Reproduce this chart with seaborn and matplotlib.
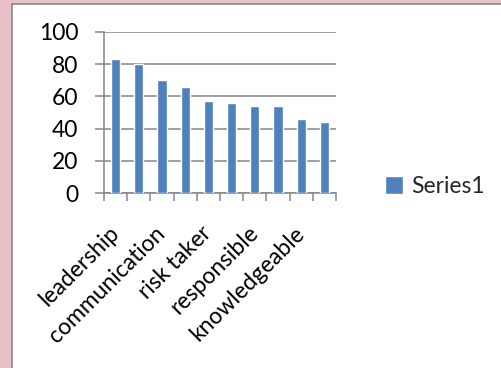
import matplotlib
matplotlib.use("Agg")
import matplotlib.pyplot as plt
import matplotlib.patches as mpatches
import matplotlib.transforms as mtransforms
import seaborn as sns
import pandas as pd

# Survey scores per attribute (only every other category name is printed on the axis)
positions = list(range(10))
values = [83, 80, 70, 66, 57, 56, 54, 54, 46, 44]
tick_labels = ["leadership", "", "communication", "", "risk taker", "",
               "responsible", "", "knowledgeable", ""]
series_name = "Series1"
y_ticks = [0, 20, 40, 60, 80, 100]

sns.set_theme(style="white")
plt.rcParams["font.family"] = ["Lato", "DejaVu Sans"]

W, H = 501, 368
fig = plt.figure(figsize=(W / 100, H / 100), dpi=100)
fig.patch.set_facecolor("#e7c1c5")

# White chart area with a thin grey frame
frame = mpatches.Rectangle((11.5 / W, -0.01), 1.0, 1 - 3.5 / H + 0.01,
                           transform=fig.transFigure, facecolor="white",
                           edgecolor="#8a8a8a", linewidth=1.2, zorder=-10)
fig.patches.append(frame)

ax = fig.add_axes([104 / W, 1 - 193 / H, (336 - 104) / W, (193 - 32) / H])
ax.set_zorder(5)
ax.set_facecolor("white")

df = pd.DataFrame({"pos": positions, "value": values})
sns.barplot(data=df, x="pos", y="value", color="#4f81bd", saturation=1,
            width=0.4, ax=ax, label=series_name, zorder=3)

ax.set_xlim(-0.5, 9.5)
ax.set_ylim(0, 100)
ax.set_yticks(y_ticks)
ax.set_yticklabels([str(v) for v in y_ticks], fontsize=16.5, color="black")
ax.set_xticks([p for p in positions])
ax.set_xticklabels(tick_labels, rotation=45, ha="right", va="center",
                   rotation_mode="anchor", fontsize=16.5, color="black")
# nudge the slanted category names a little to the left
shift = mtransforms.ScaledTranslation(-7 / 100, 0, fig.dpi_scale_trans)
for lbl in ax.get_xticklabels():
    lbl.set_transform(lbl.get_transform() + shift)
ax.set_xlabel("")
ax.set_ylabel("")

# Excel-style horizontal gridlines and axis lines
ax.grid(axis="y", color="#868686", linewidth=1.1, zorder=0)
ax.set_axisbelow(True)
for side in ["top", "right"]:
    ax.spines[side].set_visible(False)
for side in ["left", "bottom"]:
    ax.spines[side].set_color("#868686")
    ax.spines[side].set_linewidth(1.1)

ax.tick_params(axis="y", length=6.5, width=1.1, color="#868686", pad=12,
               left=True, direction="out")
# category boundary ticks on the x axis
ax.set_xticks([p + 0.5 for p in [-1] + positions], minor=True)
ax.tick_params(axis="x", which="minor", length=6, width=1.1, color="#868686",
               bottom=True, direction="out")
ax.tick_params(axis="x", which="major", length=0, pad=26.5)

leg = ax.legend(loc="center left", bbox_to_anchor=(1.17, 0.04), frameon=False,
                fontsize=16.5, handlelength=0.8, handleheight=0.8,
                handletextpad=0.35, borderaxespad=0)

fig.savefig("out.png", dpi=100, facecolor=fig.get_facecolor())
